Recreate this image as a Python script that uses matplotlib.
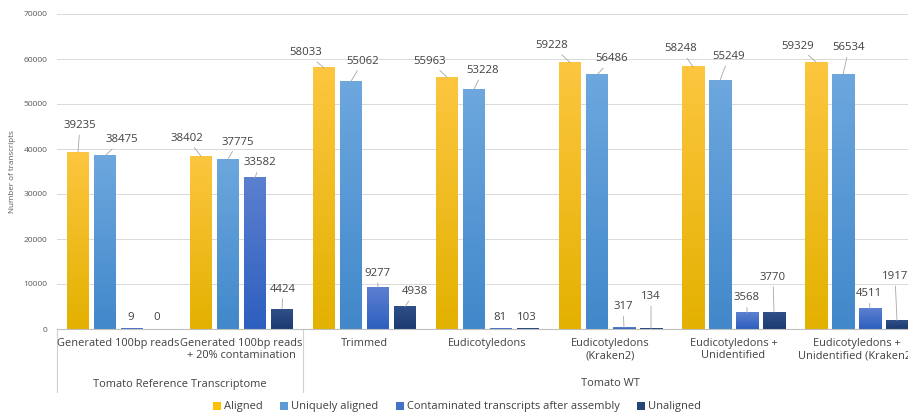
import numpy as np
import matplotlib
matplotlib.use("Agg")
import matplotlib.pyplot as plt
from matplotlib.colors import LinearSegmentedColormap
from matplotlib.patches import Patch
from matplotlib.transforms import blended_transform_factory

plt.rcParams['font.family'] = ['Open Sans', 'DejaVu Sans']

# ---- data ----
categories = ["Generated 100bp reads", "Generated 100bp reads\n+ 20% contamination",
              "Trimmed", "Eudicotyledons", "Eudicotyledons\n(Kraken2)",
              "Eudicotyledons +\nUnidentified", "Eudicotyledons +\nUnidentified (Kraken2)"]
groups = ["Tomato Reference Transcriptome", "Tomato WT"]
group_spans = [(0, 1), (2, 6)]
series_names = ["Aligned", "Uniquely aligned",
                "Contaminated transcripts after assembly", "Unaligned"]
aligned = [39235, 38402, 58033, 55963, 59228, 58248, 59329]
uniquely_aligned = [38475, 37775, 55062, 53228, 56486, 55249, 56534]
contaminated = [9, 33582, 9277, 81, 317, 3568, 4511]
unaligned = [0, 4424, 4938, 103, 134, 3770, 1917]
y_ticks = [0, 10000, 20000, 30000, 40000, 50000, 60000, 70000]

# ---- styling ----
grad_colors = [("#fcc63f", "#e3b100"),   # top, bottom
               ("#6da7de", "#4188ca"),
               ("#5c80d0", "#2d5fbf"),
               ("#2f4f88", "#1d3b71")]
legend_colors = ["#ffc000", "#5b9bd5", "#4472c4", "#264478"]
# label offsets (pixels) from each bar's top centre
label_offsets = [
    [(2, 27), (-14, 18), (-18, 15), (-17, 16), (-18, 17), (-12, 18), (-18, 16)],
    [(17, 16), (10, 17), (12, 20), (9, 19), (15, 16), (9, 24), (6, 27)],
    [(-1, 11), (5, 15), (-1, 14), (-1, 11), (-1, 21), (0, 15), (-1, 15)],
    [(-2, 11), (1, 20), (10, 15), (-1, 11), (0, 32), (-1, 35), (-2, 44)],
]

W, H = 908, 417
fig = plt.figure(figsize=(W / 100, H / 100), dpi=100)
x0, x1, ytop, ybot = 57, 918, 14, 329
ax = fig.add_axes([x0 / W, 1 - ybot / H, (x1 - x0) / W, (ybot - ytop) / H])

n = len(categories)
xs = np.arange(n)
pitch = 27 / 123
width = 22 / 123
series = [aligned, uniquely_aligned, contaminated, unaligned]

for si, vals in enumerate(series):
    top_c, bot_c = grad_colors[si]
    cmap = LinearSegmentedColormap.from_list(f"g{si}", [bot_c, top_c])
    grad = np.linspace(0, 1, 256).reshape(-1, 1)
    for ci, v in enumerate(vals):
        xc = xs[ci] + (si - 1.5) * pitch
        if v > 0:
            ax.imshow(grad, cmap=cmap, origin="lower", aspect="auto",
                      extent=(xc - width / 2, xc + width / 2, 0, v),
                      zorder=2, interpolation="bilinear")
        dx, dy = label_offsets[si][ci]
        kw = {}
        if dy > 13:
            kw["arrowprops"] = dict(arrowstyle="-", color="#a6a6a6", lw=0.6,
                                    shrinkA=1, shrinkB=0)
        ax.annotate(f"{v}", xy=(xc, v), xytext=(dx, dy),
                    textcoords="offset pixels", ha="center", va="center",
                    fontsize=8.2, color="#404040", zorder=4, **kw)

ax.set_xlim(-0.5, n - 0.5)
ax.set_ylim(0, 70000)
ax.set_yticks(y_ticks)
ax.set_yticklabels([str(t) for t in y_ticks], fontsize=6.1, color="#595959")
ax.tick_params(axis="y", length=0, pad=7)
ax.set_xticks([])
ax.grid(axis="y", color="#d9d9d9", lw=0.7, zorder=0)
ax.set_axisbelow(True)
for s in ["top", "right", "left"]:
    ax.spines[s].set_visible(False)
ax.spines["bottom"].set_color("#bfbfbf")
ax.spines["bottom"].set_linewidth(0.8)
ax.set_ylabel("Number of transcripts", fontsize=5.8, color="#595959", labelpad=5)

# multi-level category axis
to_ax = lambda ypix: (ybot - ypix) / (ybot - ytop)
tr = blended_transform_factory(ax.transData, ax.transAxes)
for ci, lab in enumerate(categories):
    ax.text(xs[ci], to_ax(338), lab, transform=tr, ha="center", va="top",
            fontsize=7.9, color="#404040", linespacing=1.15, clip_on=False)
for (a, b), g in zip(group_spans, groups):
    ax.text((a + b) / 2, to_ax(384), g, transform=tr, ha="center", va="center",
            fontsize=7.9, color="#404040", clip_on=False)
for xb in [-0.5, 1.5]:
    ax.plot([xb, xb], [to_ax(329), to_ax(392)], transform=tr, color="#d0d0d0",
            lw=0.8, clip_on=False)

handles = [Patch(facecolor=c, edgecolor="none") for c in legend_colors]
fig.legend(handles, series_names, loc="center", ncol=4, frameon=False,
           bbox_to_anchor=(457 / W, 1 - 407 / H), fontsize=8.0,
           handlelength=0.7, handleheight=0.7, handletextpad=0.25,
           columnspacing=1.6, labelcolor="#404040")

fig.savefig("out.png", dpi=100)
